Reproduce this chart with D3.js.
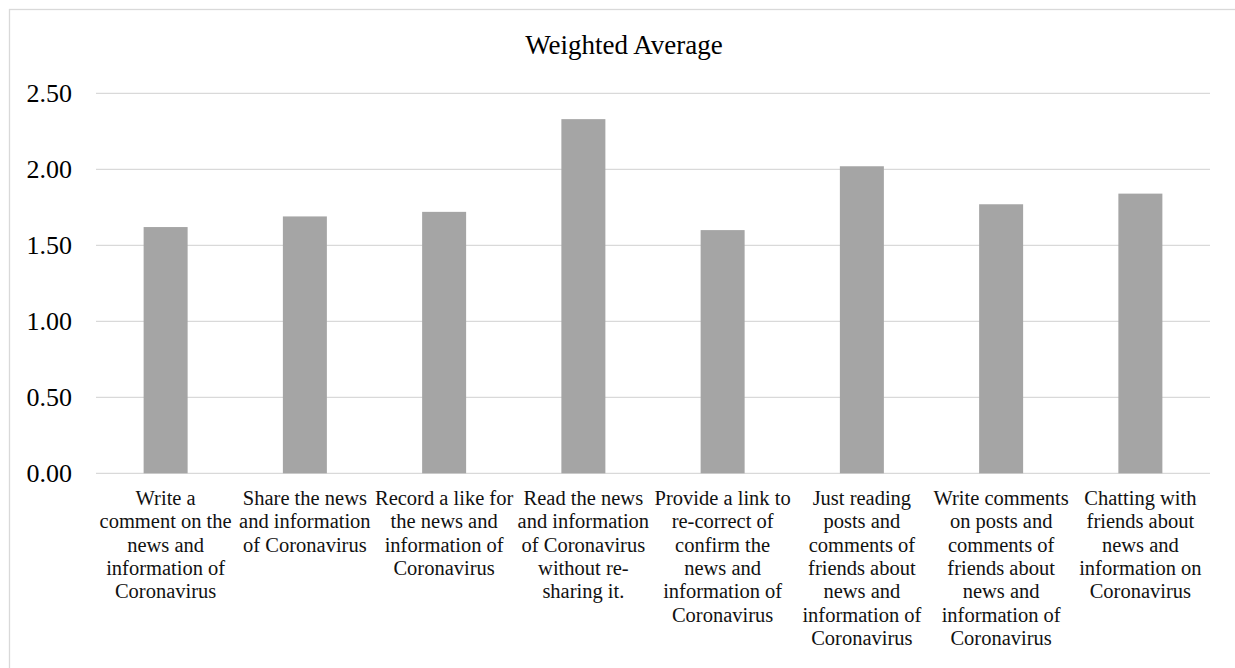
<!DOCTYPE html>
<html>
<head>
<meta charset="utf-8">
<script src="https://cdn.jsdelivr.net/npm/d3@7"></script>
<style>
  html, body { margin: 0; padding: 0; background: #fff; overflow: hidden; }
  svg { display: block; }
</style>
</head>
<body>
<svg id="chart" width="1235" height="668"></svg>
<script>
// Weighted average score of each Coronavirus news activity
const categories = [
  ["Write a", "comment on the", "news and", "information of", "Coronavirus"],
  ["Share the news", "and information", "of Coronavirus"],
  ["Record a like for", "the news and", "information of", "Coronavirus"],
  ["Read the news", "and information", "of Coronavirus", "without re-", "sharing it."],
  ["Provide a link to", "re-correct of", "confirm the", "news and", "information of", "Coronavirus"],
  ["Just reading", "posts and", "comments of", "friends about", "news and", "information of", "Coronavirus"],
  ["Write comments", "on posts and", "comments of", "friends about", "news and", "information of", "Coronavirus"],
  ["Chatting with", "friends about", "news and", "information on", "Coronavirus"]
];
const values = [1.62, 1.69, 1.72, 2.33, 1.60, 2.02, 1.77, 1.84];
const yTicks = [0, 0.5, 1.0, 1.5, 2.0, 2.5];
const title = "Weighted Average";

const svg = d3.select("#chart");
const serif = "'Liberation Serif', 'Times New Roman', serif";

// outer chart frame (extends past the right and bottom edges)
svg.append("rect")
  .attr("x", 9.5).attr("y", 9.5)
  .attr("width", 1260).attr("height", 700)
  .attr("fill", "none")
  .attr("stroke", "#d9d9d9")
  .attr("stroke-width", 1.3);

const plot = { left: 96, right: 1210, top: 93.3, bottom: 473.3 };

const x = d3.scaleBand()
  .domain(d3.range(values.length))
  .range([plot.left, plot.right])
  .paddingInner(0.684)
  .paddingOuter(0.342);

const y = d3.scaleLinear()
  .domain([0, 2.5])
  .range([plot.bottom, plot.top]);

// title
svg.append("text")
  .attr("x", 624).attr("y", 53.5)
  .attr("text-anchor", "middle")
  .attr("font-family", serif)
  .attr("font-size", 27)
  .attr("fill", "#000")
  .text(title);

// horizontal gridlines
svg.append("g")
  .selectAll("line")
  .data(yTicks)
  .join("line")
  .attr("x1", plot.left).attr("x2", plot.right)
  .attr("y1", d => y(d)).attr("y2", d => y(d))
  .attr("stroke", "#d9d9d9")
  .attr("stroke-width", 1.3);

// y axis labels
const yAxis = d3.axisLeft(y)
  .tickValues(yTicks)
  .tickFormat(d3.format(".2f"))
  .tickSize(0)
  .tickPadding(24);

const gy = svg.append("g")
  .attr("transform", `translate(${plot.left},0)`)
  .call(yAxis);
gy.select(".domain").remove();
gy.selectAll("text")
  .attr("font-family", serif)
  .attr("font-size", 26)
  .attr("fill", "#000");

// bars
svg.append("g")
  .selectAll("rect")
  .data(values)
  .join("rect")
  .attr("x", (d, i) => x(i))
  .attr("y", d => y(d))
  .attr("width", x.bandwidth())
  .attr("height", d => y(0) - y(d))
  .attr("fill", "#a5a5a5");

// category labels, one tspan per line
const labels = svg.append("g")
  .selectAll("text")
  .data(categories)
  .join("text")
  .attr("x", (d, i) => x(i) + x.bandwidth() / 2)
  .attr("y", 505)
  .attr("text-anchor", "middle")
  .attr("font-family", serif)
  .attr("font-size", 20.5)
  .attr("fill", "#111");

labels.selectAll("tspan")
  .data((d, i) => d.map(line => ({ line, i })))
  .join("tspan")
  .attr("x", d => x(d.i) + x.bandwidth() / 2)
  .attr("dy", (d, j) => j === 0 ? 0 : 23.33)
  .text(d => d.line);
</script>
</body>
</html>
